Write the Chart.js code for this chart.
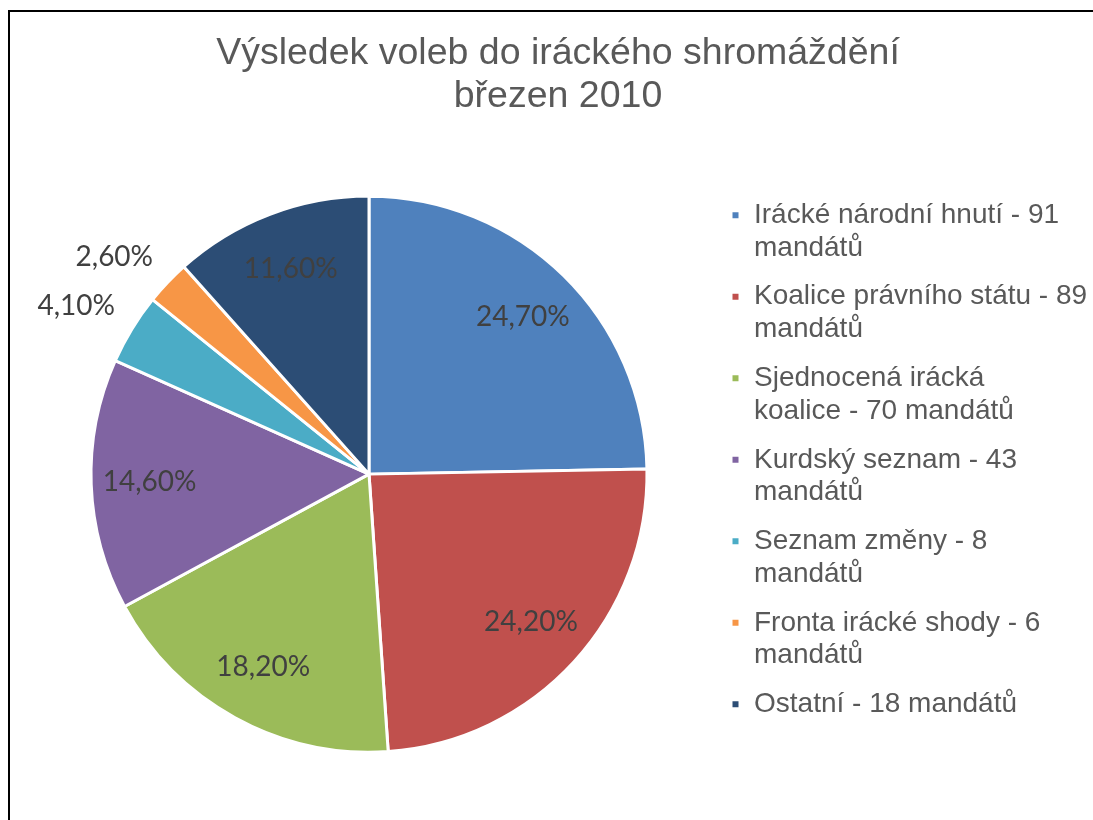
<!DOCTYPE html>
<html lang="cs">
<head>
<meta charset="utf-8">
<title>Výsledek voleb do iráckého shromáždění</title>
<script src="https://cdn.jsdelivr.net/npm/chart.js@4.4.1/dist/chart.umd.min.js"></script>
<style>
    html, body { margin: 0; padding: 0; background: #fff; overflow: hidden; }
    #frame {
        position: absolute; left: 8px; top: 10px; width: 1200px; height: 900px;
        border-left: 2px solid #000; border-top: 2px solid #000;
    }
    #wrap { position: absolute; left: 0; top: 0; width: 1093px; height: 820px; }
</style>
</head>
<body>
<div id="frame"></div>
<div id="wrap"><canvas id="resultsChart"></canvas></div>
<script>
const parties = [
    ['Irácké národní hnutí - 91', 'mandátů'],
    ['Koalice právního státu - 89', 'mandátů'],
    ['Sjednocená irácká', 'koalice - 70 mandátů'],
    ['Kurdský seznam - 43', 'mandátů'],
    ['Seznam změny - 8', 'mandátů'],
    ['Fronta irácké shody - 6', 'mandátů'],
    'Ostatní - 18 mandátů'
];
const shares = [24.7, 24.2, 18.2, 14.6, 4.1, 2.6, 11.6];
const sliceColors = ['#4F81BD', '#C0504D', '#9BBB59', '#8064A2', '#4BACC6', '#F79646', '#2C4D75'];
const titleLines = ['Výsledek voleb do iráckého shromáždění', 'březen 2010'];

// percentage labels: inside the slice, small slices get them outside
const sliceLabels = {
    id: 'sliceLabels',
    afterDatasetsDraw(chart) {
        const { ctx } = chart;
        const meta = chart.getDatasetMeta(0);
        ctx.save();
        ctx.font = '28px Lato';
        ctx.fillStyle = '#404040';
        ctx.textAlign = 'center';
        ctx.textBaseline = 'middle';
        meta.data.forEach((arc, i) => {
            const { x, y, startAngle, endAngle, outerRadius } = arc.getProps(['x', 'y', 'startAngle', 'endAngle', 'outerRadius'], true);
            const mid = (startAngle + endAngle) / 2;
            const dx = Math.cos(mid), dy = Math.sin(mid);
            const text = shares[i].toFixed(2).replace('.', ',') + '%';
            if (shares[i] < 5) {
                // nearest corner of the label sits on the slice's middle ray
                const w = ctx.measureText(text).width;
                const r = outerRadius + 20;
                ctx.fillText(text, x + dx * r + Math.sign(dx) * w / 2, y + dy * r + Math.sign(dy) * 12);
            } else {
                const r = outerRadius * 0.79;
                ctx.fillText(text, x + dx * r, y + dy * r);
            }
        });
        ctx.restore();
    }
};

new Chart(document.getElementById('resultsChart'), {
    type: 'pie',
    data: {
        labels: parties,
        datasets: [{
            data: shares,
            backgroundColor: sliceColors,
            borderColor: '#ffffff',
            borderWidth: 3,
            radius: 278
        }]
    },
    options: {
        responsive: true,
        maintainAspectRatio: false,
        animation: false,
        layout: { padding: { left: 23, right: 0, top: 0, bottom: 57 } },
        plugins: {
            title: {
                display: true,
                text: titleLines,
                color: '#595959',
                font: { family: 'Liberation Sans', size: 37.5, weight: 'normal', lineHeight: 1.15 },
                padding: { top: 32, bottom: 67 }
            },
            legend: {
                position: 'right',
                align: 'start',
                fullSize: false,
                maxWidth: 378,
                labels: {
                    color: '#595959',
                    font: { family: 'Liberation Sans', size: 28, lineHeight: 1.17 },
                    boxWidth: 9,
                    boxHeight: 9,
                    padding: 16
                }
            },
            tooltip: { enabled: false }
        }
    },
    plugins: [sliceLabels]
});
</script>
</body>
</html>
